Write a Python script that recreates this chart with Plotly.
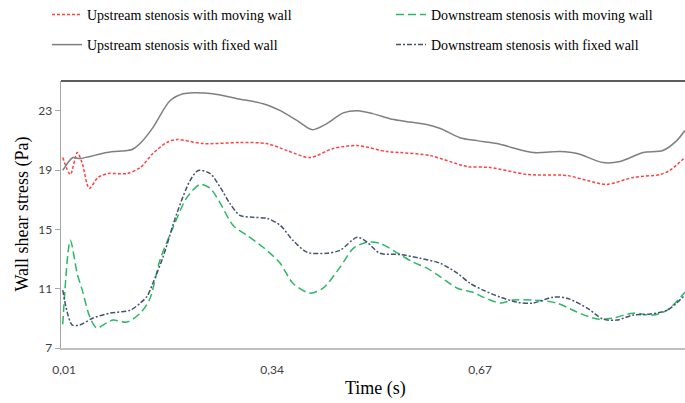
import plotly.graph_objects as go

# ---- data (time in s, wall shear stress in Pa) ----
t_up_moving = [0.008, 0.020, 0.031, 0.039, 0.050, 0.064, 0.080, 0.110, 0.131, 0.151, 0.173, 0.189,
               0.231, 0.289, 0.332, 0.364, 0.400, 0.437, 0.475, 0.522, 0.543, 0.591, 0.649, 0.686,
               0.745, 0.808, 0.840, 0.871, 0.913, 0.956, 0.971, 0.995]
wss_up_moving = [19.84, 18.70, 20.18, 19.44, 17.76, 18.50, 18.76, 18.76, 19.17, 20.11, 20.85, 21.05,
                 20.78, 20.85, 20.78, 20.31, 19.84, 20.45, 20.65, 20.24, 20.18, 19.97, 19.24, 19.17,
                 18.70, 18.63, 18.29, 18.03, 18.50, 18.70, 18.97, 19.84]

t_down_moving = [0.008, 0.020, 0.031, 0.039, 0.051, 0.062, 0.078, 0.088, 0.110, 0.131, 0.146, 0.162,
                 0.183, 0.205, 0.226, 0.242, 0.258, 0.278, 0.300, 0.326, 0.353, 0.373, 0.400, 0.421,
                 0.448, 0.469, 0.491, 0.511, 0.543, 0.564, 0.586, 0.607, 0.634, 0.659, 0.675, 0.702,
                 0.722, 0.754, 0.792, 0.824, 0.856, 0.881, 0.913, 0.944, 0.967, 0.995]
wss_down_moving = [8.60, 14.26, 12.00, 10.90, 9.08, 8.35, 8.70, 8.88, 8.75, 9.35, 10.30, 12.90,
                   15.13, 17.15, 18.03, 17.76, 16.75, 15.27, 14.60, 13.79, 12.71, 11.37, 10.70, 11.03,
                   12.45, 13.72, 14.13, 14.06, 13.30, 12.78, 12.38, 11.80, 11.03, 10.76, 10.43, 10.03,
                   10.23, 10.23, 10.03, 9.42, 8.95, 9.02, 9.35, 9.22, 9.55, 10.76]

t_up_fixed = [0.008, 0.024, 0.035, 0.078, 0.110, 0.119, 0.131, 0.151, 0.178, 0.199, 0.215, 0.246,
              0.285, 0.326, 0.353, 0.380, 0.404, 0.427, 0.453, 0.476, 0.500, 0.527, 0.543, 0.554,
              0.587, 0.607, 0.638, 0.665, 0.697, 0.754, 0.797, 0.824, 0.865, 0.892, 0.929, 0.960,
              0.982, 0.995]
wss_up_fixed = [18.97, 19.84, 19.77, 20.18, 20.31, 20.40, 20.80, 21.86, 23.67, 24.14, 24.21, 24.14,
                23.81, 23.47, 23.00, 22.33, 21.72, 22.13, 22.85, 23.00, 22.80, 22.46, 22.33, 22.26,
                22.05, 21.80, 21.18, 20.98, 20.78, 20.18, 20.24, 20.11, 19.50, 19.57, 20.18, 20.31,
                20.98, 21.66]

t_down_fixed = [0.008, 0.015, 0.023, 0.035, 0.056, 0.083, 0.115, 0.131, 0.142, 0.151, 0.167, 0.189,
                0.210, 0.223, 0.242, 0.258, 0.273, 0.289, 0.310, 0.332, 0.353, 0.373, 0.396, 0.427,
                0.448, 0.475, 0.491, 0.511, 0.543, 0.575, 0.607, 0.634, 0.654, 0.675, 0.702, 0.729,
                0.754, 0.786, 0.808, 0.840, 0.865, 0.887, 0.913, 0.940, 0.967, 0.995]
wss_down_fixed = [10.90, 9.42, 8.55, 8.55, 9.02, 9.35, 9.55, 10.03, 10.50, 11.37, 13.12, 16.08,
                  18.29, 18.97, 18.76, 17.82, 16.75, 15.94, 15.81, 15.74, 15.27, 14.26, 13.45, 13.39,
                  13.59, 14.46, 14.13, 13.39, 13.30, 13.05, 12.71, 12.04, 11.37, 10.90, 10.43, 10.09,
                  10.03, 10.43, 10.36, 9.69, 8.95, 8.88, 9.22, 9.29, 9.55, 10.56]

x_tick_vals = [0.01, 0.34, 0.67]
x_tick_text = ["0,01", "0,34", "0,67"]
y_tick_vals = [7, 11, 15, 19, 23]

names = ["Upstream stenosis with moving wall", "Downstream stenosis with moving wall",
         "Upstream stenosis with fixed wall", "Downstream stenosis with fixed wall"]

serif = "Liberation Serif, Times New Roman, serif"
W, H = 685, 403
L, R, T, B = 61, 0, 81, 55

fig = go.Figure()
specs = [
    (t_up_moving, wss_up_moving, names[0], "#FF4040", "3px,2px", "legend"),
    (t_down_moving, wss_down_moving, names[1], "#2DB866", "8px,4px", "legend2"),
    (t_up_fixed, wss_up_fixed, names[2], "#7F7F7F", "solid", "legend3"),
    (t_down_fixed, wss_down_fixed, names[3], "#44546A", "5px,2px,2px,2px", "legend4"),
]
for x, y, nm, col, dash, lg in specs:
    fig.add_trace(go.Scatter(
        x=x, y=y, name=nm, mode="lines",
        line=dict(color=col, width=1.5, dash=dash, shape="spline", smoothing=0.8),
        legend=lg, hoverinfo="skip"))

def leg(xpx, ypx):
    return dict(xref="container", yref="container", x=xpx / W, y=1 - ypx / H,
                xanchor="left", yanchor="middle", bgcolor="rgba(0,0,0,0)",
                font=dict(family=serif, size=14, color="#000000"),
                itemwidth=30, borderwidth=0)

fig.update_layout(
    width=W, height=H,
    margin=dict(l=L, r=R, t=T, b=B, autoexpand=False),
    paper_bgcolor="white", plot_bgcolor="white",
    showlegend=True,
    legend=leg(47, 15), legend2=leg(391, 15),
    legend3=leg(47, 45), legend4=leg(391, 45),
    xaxis=dict(range=[0.0052, 0.9952], tickvals=x_tick_vals, ticktext=x_tick_text,
               showgrid=False, zeroline=False, showline=True, linecolor="#BFBFBF", linewidth=1.5,
               ticks="", ticklabelstandoff=10, tickangle=0, automargin=False,
               tickfont=dict(family="Lato, Carlito, sans-serif", size=12, color="#404040")),
    yaxis=dict(range=[7, 25], tickvals=y_tick_vals, showgrid=False, zeroline=False,
               showline=True, linecolor="#A6A6A6", linewidth=1.5, automargin=False,
               ticks="outside", ticklen=5, tickcolor="#A6A6A6", tickwidth=1,
               tickfont=dict(family="Lato, Carlito, sans-serif", size=12, color="#404040")),
    shapes=[dict(type="line", xref="paper", yref="paper", x0=0, x1=1, y0=1, y1=1,
                 line=dict(color="#262626", width=1.5))],
    annotations=[
        dict(text="Wall shear stress (Pa)", xref="paper", yref="paper",
             x=(22 - L) / (W - L - R), y=0.5, textangle=-90, showarrow=False,
             xanchor="center", yanchor="middle",
             font=dict(family=serif, size=18, color="#000000")),
        dict(text="Time (s)", xref="paper", yref="paper",
             x=(375 - L) / (W - L - R), y=(348 - 388) / (H - T - B), showarrow=False,
             xanchor="center", yanchor="middle",
             font=dict(family=serif, size=18, color="#000000")),
    ],
)

fig.write_html("out.html", config={"displayModeBar": False, "staticPlot": True},
               post_script="document.body.style.margin='0';document.body.style.overflow='hidden';")
